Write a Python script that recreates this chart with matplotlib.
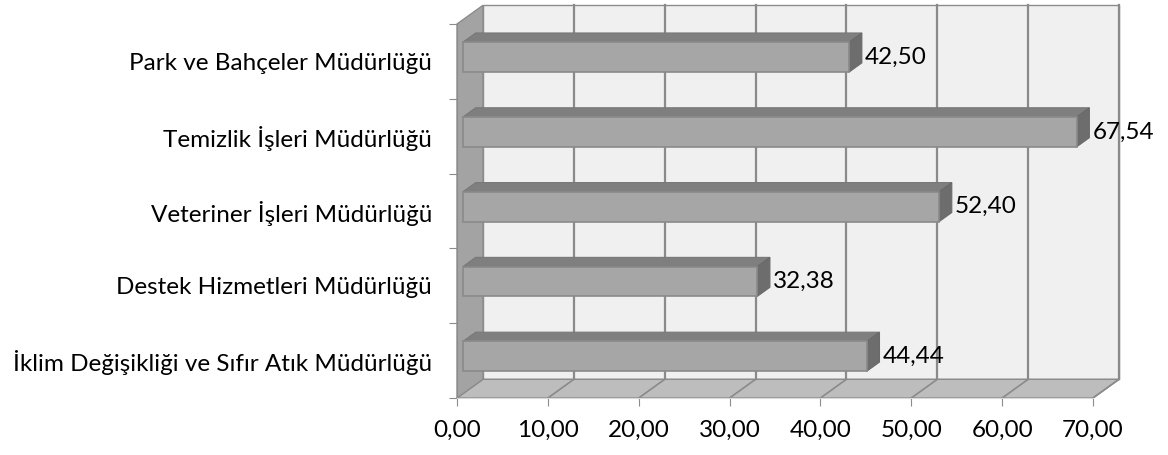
import numpy as np
import matplotlib
matplotlib.use('Agg')
import matplotlib.pyplot as plt
from matplotlib.patches import Polygon

plt.rcParams['font.family'] = ['Lato', 'DejaVu Sans']

# data (bottom to top)
categories = ['İklim Değişikliği ve Sıfır Atık Müdürlüğü',
              'Destek Hizmetleri Müdürlüğü',
              'Veteriner İşleri Müdürlüğü',
              'Temizlik İşleri Müdürlüğü',
              'Park ve Bahçeler Müdürlüğü']
values = [44.44, 32.38, 52.40, 67.54, 42.50]
xticks = [0, 10, 20, 30, 40, 50, 60, 70]

xmax = 70
ncat = len(categories)
fs = 17.5

# 3d depth vector in data units
dx, dy = 2.86, 0.25
f0, f1 = 0.23, 0.72     # bar front / back position in depth
bar_h = 0.40

fig = plt.figure(figsize=(11.68, 4.55), dpi=100)
ax = fig.add_axes([457/1168, 57/455, 636/1168, 374/455])
ax.set_xlim(0, xmax)
ax.set_ylim(0, ncat)

wall_edge = '#8c8c8c'
# back wall
ax.add_patch(Polygon([(dx, dy), (xmax+dx, dy), (xmax+dx, ncat+dy), (dx, ncat+dy)],
                     closed=True, fc='#f0f0f0', ec=wall_edge, lw=1, clip_on=False, zorder=1))
# floor
ax.add_patch(Polygon([(0, 0), (xmax, 0), (xmax+dx, dy), (dx, dy)],
                     closed=True, fc='#bdbdbd', ec=wall_edge, lw=1, clip_on=False, zorder=1))
# left wall
ax.add_patch(Polygon([(0, 0), (dx, dy), (dx, ncat+dy), (0, ncat)],
                     closed=True, fc='#a3a3a3', ec=wall_edge, lw=1, clip_on=False, zorder=2))

# gridlines on back wall and floor
for v in xticks[1:]:
    ax.plot([v+dx, v+dx], [dy, ncat+dy], color='#8a8a8a', lw=1.6, clip_on=False, zorder=1.5)
    ax.plot([v, v+dx], [0, dy], color='#8a8a8a', lw=1.2, clip_on=False, zorder=1.5)

# bars
for i, v in enumerate(values):
    y0 = i + 0.5 - bar_h/2 + f0*dy
    x0 = f0*dx
    ddx = (f1-f0)*dx
    ddy = (f1-f0)*dy
    front = [(x0, y0), (x0+v, y0), (x0+v, y0+bar_h), (x0, y0+bar_h)]
    top = [(x0, y0+bar_h), (x0+v, y0+bar_h), (x0+v+ddx, y0+bar_h+ddy), (x0+ddx, y0+bar_h+ddy)]
    side = [(x0+v, y0), (x0+v+ddx, y0+ddy), (x0+v+ddx, y0+bar_h+ddy), (x0+v, y0+bar_h)]
    ax.add_patch(Polygon(top, closed=True, fc='#7f7f7f', ec='#787878', lw=0.8, clip_on=False, zorder=3))
    ax.add_patch(Polygon(side, closed=True, fc='#6d6d6d', ec='#6a6a6a', lw=0.8, clip_on=False, zorder=3))
    ax.add_patch(Polygon(front, closed=True, fc='#a6a6a6', ec='#8a8a8a', lw=1.2, clip_on=False, zorder=4))
    ax.text(x0+v+1.75, y0+bar_h/2, ('%.2f' % v).replace('.', ','), fontsize=fs,
            va='center', ha='left', color='black', zorder=5)

for s in ['top', 'right']:
    ax.spines[s].set_visible(False)
ax.spines['left'].set_color('#8c8c8c')
ax.spines['bottom'].set_color('#d9d9d9')

ax.set_xticks(xticks)
ax.set_xticklabels([('%.2f' % t).replace('.', ',') for t in xticks], fontsize=fs)
ax.tick_params(axis='x', direction='out', length=6, color='#8c8c8c', pad=10)

ax.set_yticks(np.arange(ncat+1))
ax.set_yticklabels([])
ax.set_yticks(np.arange(ncat) + 0.5, minor=True)
ax.set_yticklabels(categories, minor=True, fontsize=fs)
ax.tick_params(axis='y', which='major', direction='out', length=6, color='#8c8c8c')
ax.tick_params(axis='y', which='minor', length=0, pad=18)

fig.savefig('out.png', dpi=100)
